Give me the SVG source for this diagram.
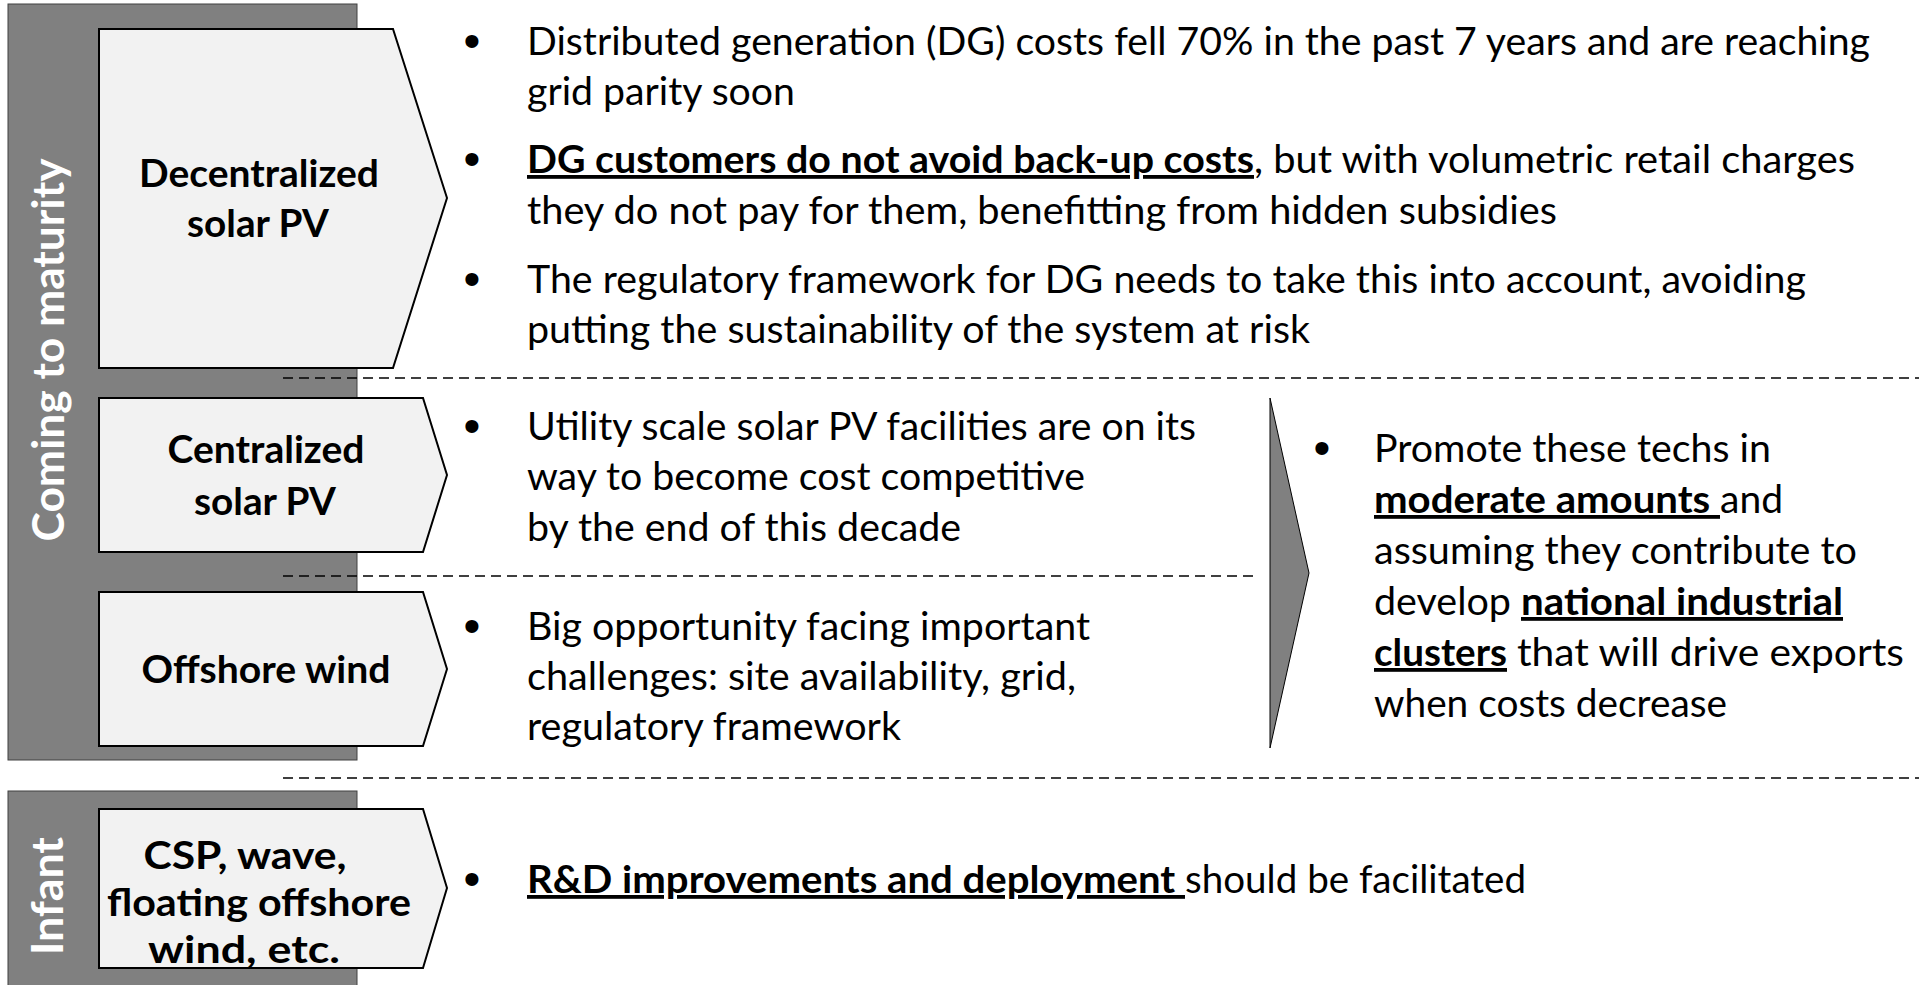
<svg xmlns="http://www.w3.org/2000/svg" width="1919" height="985" viewBox="0 0 1919 985">
  <style>
    .bar { fill: #808080; stroke: #404040; stroke-width: 1; }
    .node { fill: #f2f2f2; stroke: #000; stroke-width: 2; }
    .side { font-family: Lato, "Open Sans", "Liberation Sans", sans-serif; font-weight: 700; font-size: 43px; fill: #fff; text-anchor: middle; }
    .lbl { font-family: Lato, "Open Sans", "Liberation Sans", sans-serif; font-weight: 700; font-size: 38px; fill: #000; text-anchor: middle; }
    .t { font-family: Lato, "Open Sans", "Liberation Sans", sans-serif; font-size: 38px; fill: #000; }
    .dot { font-family: "Liberation Sans", sans-serif; font-size: 48px; fill: #000; text-anchor: middle; }
    .b { font-weight: 700; }
    .u { text-decoration: underline; }
    .divider { stroke: #000; stroke-width: 1.5; stroke-dasharray: 10 6; fill: none; }
    .arrow { fill: #808080; stroke: #000; stroke-width: 1; }
  </style>

  <!-- stage bars -->
  <g id="stage-maturity">
    <rect class="bar" x="8" y="4" width="349" height="756"/>
    <text class="side" transform="translate(64,350) rotate(-90)" textLength="383" lengthAdjust="spacingAndGlyphs">Coming to maturity</text>
  </g>
  <g id="stage-infant">
    <rect class="bar" x="8" y="791" width="349" height="200"/>
    <text class="side" transform="translate(63,896) rotate(-90)" textLength="118" lengthAdjust="spacingAndGlyphs">Infant</text>
  </g>

  <!-- dividers and the summary arrow -->
  <g id="connectors">
    <line class="divider" x1="283" y1="378" x2="1919" y2="378"/>
    <line class="divider" x1="283" y1="576" x2="1257" y2="576"/>
    <line class="divider" x1="283" y1="778" x2="1919" y2="778"/>
    <polygon class="arrow" points="1270,398 1309,573 1270,748"/>
  </g>

  <!-- technology chevrons -->
  <g id="node-decentralized">
    <polygon class="node" points="99,29 393,29 447,198 393,368 99,368"/>
    <text class="lbl" x="259" y="187" textLength="240" lengthAdjust="spacingAndGlyphs">Decentralized</text>
    <text class="lbl" x="258" y="237" textLength="142" lengthAdjust="spacingAndGlyphs">solar PV</text>
  </g>
  <g id="node-centralized">
    <polygon class="node" points="99,398 423,398 447,475 423,552 99,552"/>
    <text class="lbl" x="266" y="463" textLength="197" lengthAdjust="spacingAndGlyphs">Centralized</text>
    <text class="lbl" x="265" y="515" textLength="142" lengthAdjust="spacingAndGlyphs">solar PV</text>
  </g>
  <g id="node-offshore">
    <polygon class="node" points="99,592 423,592 447,669 423,746 99,746"/>
    <text class="lbl" x="266" y="683" textLength="249" lengthAdjust="spacingAndGlyphs">Offshore wind</text>
  </g>
  <g id="node-infant-techs">
    <polygon class="node" points="99,809 423,809 447,888 423,968 99,968"/>
    <text class="lbl" x="245" y="869" textLength="203" lengthAdjust="spacingAndGlyphs">CSP, wave,</text>
    <text class="lbl" x="259" y="916" textLength="304" lengthAdjust="spacingAndGlyphs">floating offshore</text>
    <text class="lbl" x="244" y="963" textLength="192" lengthAdjust="spacingAndGlyphs">wind, etc.</text>
  </g>

  <!-- decentralized solar PV notes -->
  <g id="notes-decentralized">
    <text class="dot" x="472" y="57">•</text>
    <text class="t" x="527" y="55" textLength="1343" lengthAdjust="spacingAndGlyphs">Distributed generation (DG) costs fell 70% in the past 7 years and are reaching</text>
    <text class="t" x="527" y="105" textLength="268" lengthAdjust="spacingAndGlyphs">grid parity soon</text>
    <text class="dot" x="472" y="175">•</text>
    <text class="t b u" x="527" y="173" textLength="727" lengthAdjust="spacingAndGlyphs">DG customers do not avoid back-up costs</text>
    <text class="t" x="1254" y="173" textLength="601" lengthAdjust="spacingAndGlyphs">, but with volumetric retail charges</text>
    <text class="t" x="527" y="224" textLength="1030" lengthAdjust="spacingAndGlyphs">they do not pay for them, benefitting from hidden subsidies</text>
    <text class="dot" x="472" y="295">•</text>
    <text class="t" x="527" y="293" textLength="1279" lengthAdjust="spacingAndGlyphs">The regulatory framework for DG needs to take this into account, avoiding</text>
    <text class="t" x="527" y="343" textLength="783" lengthAdjust="spacingAndGlyphs">putting the sustainability of the system at risk</text>
  </g>

  <!-- centralized solar PV notes -->
  <g id="notes-centralized">
    <text class="dot" x="472" y="442">•</text>
    <text class="t" x="527" y="440" textLength="669" lengthAdjust="spacingAndGlyphs">Utility scale solar PV facilities are on its</text>
    <text class="t" x="527" y="490" textLength="558" lengthAdjust="spacingAndGlyphs">way to become cost competitive</text>
    <text class="t" x="527" y="541" textLength="434" lengthAdjust="spacingAndGlyphs">by the end of this decade</text>
  </g>

  <!-- offshore wind notes -->
  <g id="notes-offshore">
    <text class="dot" x="472" y="642">•</text>
    <text class="t" x="527" y="640" textLength="563" lengthAdjust="spacingAndGlyphs">Big opportunity facing important</text>
    <text class="t" x="527" y="690" textLength="549" lengthAdjust="spacingAndGlyphs">challenges: site availability, grid,</text>
    <text class="t" x="527" y="740" textLength="374" lengthAdjust="spacingAndGlyphs">regulatory framework</text>
  </g>

  <!-- recommendation for the maturing techs -->
  <g id="notes-recommendation">
    <text class="dot" x="1322" y="464">•</text>
    <text class="t" x="1374" y="462" textLength="397" lengthAdjust="spacingAndGlyphs">Promote these techs in</text>
    <text class="t b u" x="1374" y="513" textLength="346" lengthAdjust="spacingAndGlyphs" xml:space="preserve">moderate amounts </text>
    <text class="t" x="1720" y="513" textLength="63" lengthAdjust="spacingAndGlyphs">and</text>
    <text class="t" x="1374" y="564" textLength="483" lengthAdjust="spacingAndGlyphs">assuming they contribute to</text>
    <text class="t" x="1374" y="615" textLength="137" lengthAdjust="spacingAndGlyphs">develop</text>
    <text class="t b u" x="1521" y="615" textLength="322" lengthAdjust="spacingAndGlyphs">national industrial</text>
    <text class="t b u" x="1374" y="666" textLength="133" lengthAdjust="spacingAndGlyphs">clusters</text>
    <text class="t" x="1517" y="666" textLength="387" lengthAdjust="spacingAndGlyphs">that will drive exports</text>
    <text class="t" x="1374" y="717" textLength="353" lengthAdjust="spacingAndGlyphs">when costs decrease</text>
  </g>

  <!-- infant techs note -->
  <g id="notes-infant">
    <text class="dot" x="472" y="895">•</text>
    <text class="t b u" x="527" y="893" textLength="658" lengthAdjust="spacingAndGlyphs" xml:space="preserve">R&amp;D improvements and deployment </text>
    <text class="t" x="1185" y="893" textLength="341" lengthAdjust="spacingAndGlyphs">should be facilitated</text>
  </g>
</svg>
